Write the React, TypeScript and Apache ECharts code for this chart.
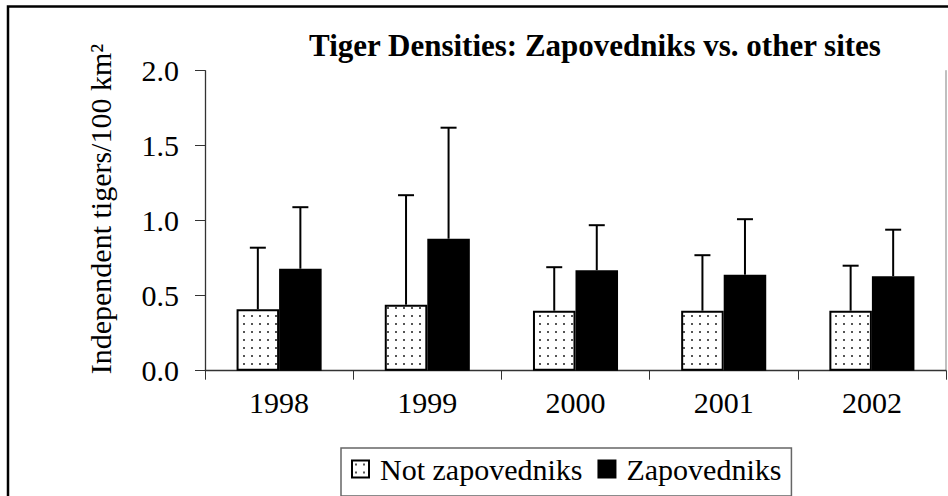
import React, { useEffect, useRef } from 'react';
import * as echarts from 'echarts';

const years = ['1998', '1999', '2000', '2001', '2002'];
const notZapMean = [0.41, 0.44, 0.40, 0.40, 0.40];
const notZapErr = [0.41, 0.73, 0.29, 0.37, 0.30];
const zapMean = [0.68, 0.88, 0.67, 0.64, 0.63];
const zapErr = [0.41, 0.74, 0.30, 0.37, 0.31];
const titleText = 'Tiger Densities: Zapovedniks vs. other sites';
const yName = 'Independent tigers/100 km\u00b2';
const seriesNames = ['Not zapovedniks', 'Zapovedniks'];

const FONT = 'Liberation Serif, serif';
const BAR_FRAC = 0.287;

function makeDots(): HTMLCanvasElement {
  const c = document.createElement('canvas');
  c.width = 8;
  c.height = 8;
  const ctx = c.getContext('2d')!;
  ctx.fillStyle = '#ffffff';
  ctx.fillRect(0, 0, 8, 8);
  ctx.fillStyle = '#555555';
  ctx.fillRect(3, 3, 2, 2);
  return c;
}

export default function App() {
  const ref = useRef<HTMLDivElement>(null);
  useEffect(() => {
    if (!ref.current) return;
    const chart = echarts.init(ref.current, undefined, { renderer: 'svg' });
    const dots = makeDots();
    const errRender = (sign: number) => (params: any, api: any) => {
      const idx = api.value(0);
      const mean = api.value(1);
      const err = api.value(2);
      const base = api.coord([idx, mean]);
      const top = api.coord([idx, mean + err]);
      const band = api.size([1, 0])[0];
      const x = base[0] + (sign * band * BAR_FRAC) / 2;
      const style = { stroke: '#000', lineWidth: 2 };
      return {
        type: 'group',
        children: [
          { type: 'line', shape: { x1: x, y1: base[1], x2: x, y2: top[1] }, style },
          { type: 'line', shape: { x1: x - 8, y1: top[1], x2: x + 8, y2: top[1] }, style },
        ],
      };
    };
    chart.setOption({
      animation: false,
      title: {
        text: titleText,
        left: 590,
        top: 25,
        textAlign: 'center',
        textStyle: { fontFamily: FONT, fontWeight: 'bold', fontSize: 31, color: '#000' },
      },
      grid: { left: 205, right: 2, top: 70.7, bottom: 125.3 },
      legend: {
        data: seriesNames,
        left: 341,
        top: 448,
        padding: [6, 10, 12, 10],
        itemGap: 15,
        itemWidth: 17,
        itemHeight: 17,
        icon: 'rect',
        borderColor: '#666',
        borderWidth: 1.5,
        textStyle: { fontFamily: FONT, fontSize: 30, color: '#000', padding: [0, 0, 0, 6] },
      },
      xAxis: {
        type: 'category',
        data: years,
        axisLine: { lineStyle: { color: '#333', width: 1.3 } },
        axisTick: { show: true, length: 9, lineStyle: { color: '#333' } },
        axisLabel: { fontFamily: FONT, fontSize: 30, color: '#000', margin: 17 },
      },
      yAxis: [
        {
          type: 'value',
          min: 0,
          max: 2,
          interval: 0.5,
          splitLine: { show: false },
          axisLine: { show: true, lineStyle: { color: '#333', width: 1.3 } },
          axisTick: { show: true, length: 10, lineStyle: { color: '#333' } },
          axisLabel: {
            fontFamily: FONT,
            fontSize: 30,
            color: '#000',
            margin: 26,
            formatter: (v: number) => v.toFixed(1),
          },
        },
        {
          type: 'value',
          min: 0,
          max: 2,
          position: 'right',
          splitLine: { show: false },
          axisLine: { show: true, lineStyle: { color: '#aaa', width: 1.5 } },
          axisTick: { show: false },
          axisLabel: { show: false },
        },
      ],
      graphic: [
        {
          type: 'rect',
          silent: true,
          shape: { x: 8, y: 6.5, width: 1200, height: 1200 },
          style: { fill: 'none', stroke: '#000', lineWidth: 2.5 },
        },
        {
          type: 'text',
          x: 100,
          y: 209,
          rotation: Math.PI / 2,
          style: {
            text: yName,
            fontFamily: FONT,
            fontSize: 30,
            fill: '#000',
            textAlign: 'center',
            textVerticalAlign: 'middle',
          },
        },
      ],
      series: [
        {
          name: seriesNames[0],
          type: 'bar',
          data: notZapMean,
          barWidth: `${BAR_FRAC * 100}%`,
          barGap: '0%',
          itemStyle: {
            color: { image: dots, repeat: 'repeat', imageWidth: 8, imageHeight: 8 },
            borderColor: '#000',
            borderWidth: 2,
          },
        },
        {
          name: seriesNames[1],
          type: 'bar',
          data: zapMean,
          barWidth: `${BAR_FRAC * 100}%`,
          barGap: '0%',
          itemStyle: { color: '#000', borderColor: '#000', borderWidth: 2 },
        },
        {
          name: 'errNot',
          type: 'custom',
          renderItem: errRender(-1),
          data: years.map((_, i) => [i, notZapMean[i], notZapErr[i]]),
          encode: { x: 0, y: 1 },
          z: 5,
        },
        {
          name: 'errZap',
          type: 'custom',
          renderItem: errRender(1),
          data: years.map((_, i) => [i, zapMean[i], zapErr[i]]),
          encode: { x: 0, y: 1 },
          z: 5,
        },
      ],
    });
    return () => chart.dispose();
  }, []);
  return (
    <div
      ref={ref}
      style={{ position: 'fixed', left: 0, top: 0, width: 948, height: 496, background: '#fff' }}
    />
  );
}
